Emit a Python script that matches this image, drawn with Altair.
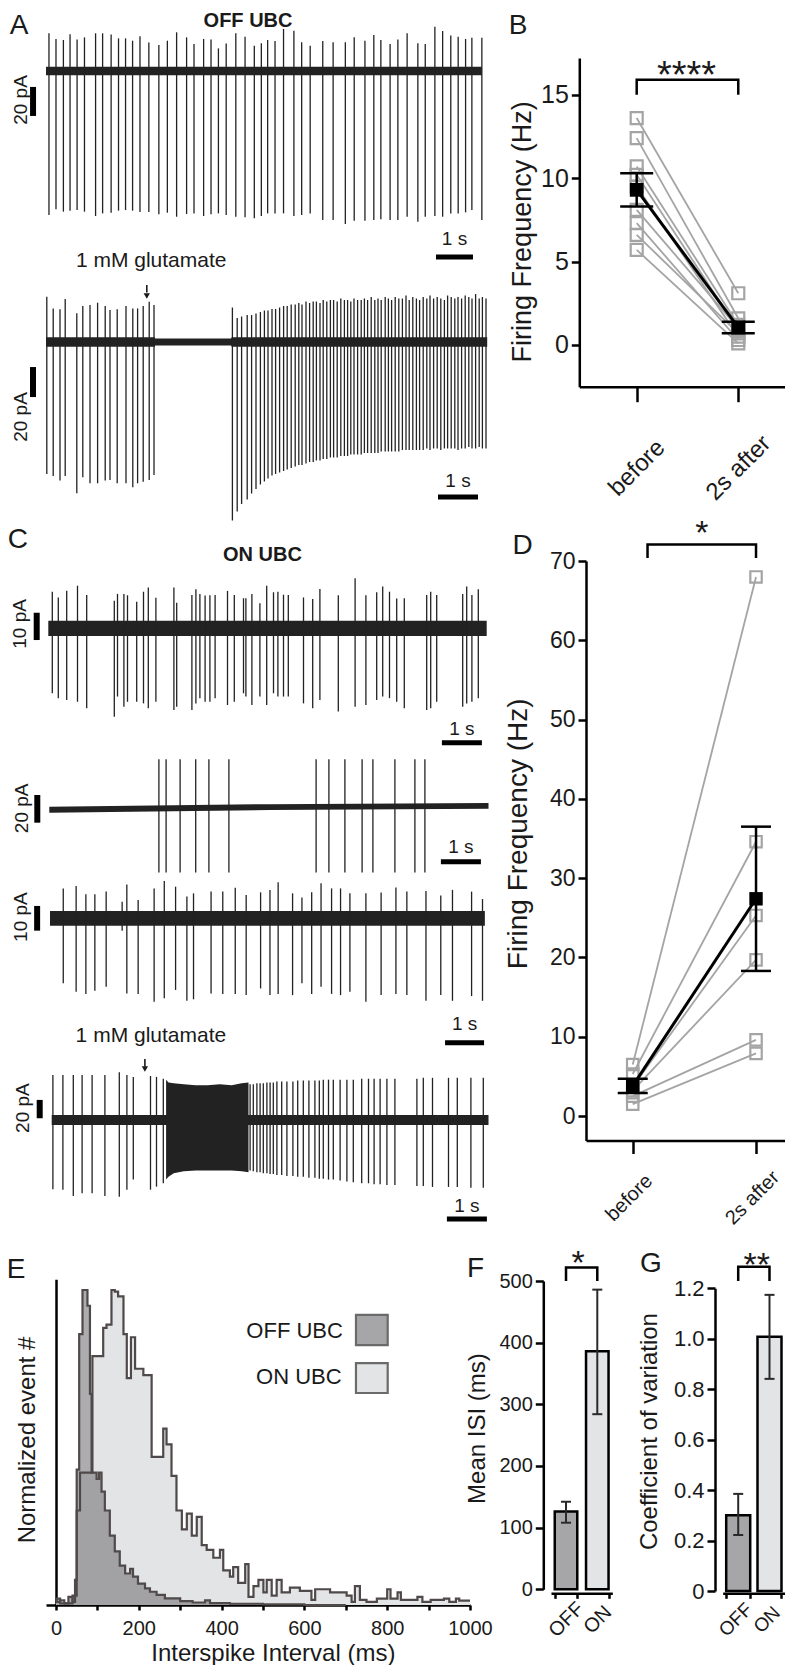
import altair as alt
import pandas as pd

# ======================= DATA =======================
# ---- Panel A, upper trace (OFF UBC, spontaneous). spike time (s), peak (pA), trough (pA)
a1_t = [0.08, 0.27, 0.47, 0.65, 0.84, 1.04, 1.34, 1.53, 1.76, 1.96, 2.15, 2.34, 2.54, 2.78, 3.05, 3.28, 3.53, 3.80,
        4.00, 4.26, 4.46, 4.66, 4.87, 5.13, 5.38, 5.63, 5.82, 5.99, 6.19, 6.42, 6.70, 6.91, 7.14, 7.48, 7.76, 8.09,
        8.33, 8.62, 8.86, 9.05, 9.30, 9.51, 9.76, 10.05, 10.25, 10.51, 10.72, 10.94, 11.14, 11.34, 11.51, 11.78]
a1_up = [26.0, 22.1, 21.4, 25.3, 21.8, 23.2, 26.0, 26.0, 25.1, 22.5, 22.5, 20.9, 23.9, 19.6, 17.9, 20.9, 26.7, 23.2,
         18.6, 22.1, 21.8, 15.6, 18.9, 26.0, 23.7, 17.5, 19.1, 21.4, 20.7, 29.0, 27.8, 19.8, 17.5, 20.7, 19.8, 19.8,
         23.2, 20.9, 24.8, 21.4, 18.6, 21.8, 26.0, 19.1, 18.6, 30.6, 27.6, 24.4, 23.7, 22.1, 23.0, 23.0]
a1_dn = [-99.3, -95.4, -97.0, -96.3, -95.9, -97.0, -100.0, -98.2, -97.7, -96.3, -95.9, -96.3, -97.2, -97.2, -98.8,
         -97.7, -100.5, -98.6, -98.2, -100.0, -98.8, -98.2, -99.3, -100.5, -100.9, -101.6, -100.0, -98.2, -98.2,
         -98.2, -100.0, -99.3, -98.2, -102.7, -102.7, -105.5, -103.2, -103.2, -102.7, -102.3, -102.7, -102.7,
         -100.5, -103.9, -100.5, -100.0, -100.5, -98.2, -98.2, -97.5, -95.9, -102.7]
a1_noise = [[0.0, 11.78], [-3.0, -3.0], [3.0, 3.0]]          # time s, low pA, high pA

# ---- Panel A, lower trace (OFF UBC, 1 mM glutamate puff)
a2_t_before = [0.02, 0.18, 0.35, 0.48, 0.77, 0.92, 1.10, 1.29, 1.48, 1.60, 1.78, 2.00, 2.17, 2.29, 2.43, 2.58, 2.70]
a2_up_before = [30.2, 22.4, 21.8, 28.7, 19.1, 24.0, 24.7, 26.2, 24.0, 21.3, 21.8, 24.0, 22.4, 22.4, 24.0, 26.9, 24.7]
a2_dn_before = [-88.0, -89.3, -92.4, -89.3, -100.9, -90.2, -94.2, -94.2, -92.4, -92.0, -94.2, -94.2, -96.9, -94.2,
                -93.1, -92.0, -88.7]
a2_t_after = [4.66, 4.78, 4.89, 5.03, 5.14, 5.25, 5.36, 5.46, 5.55, 5.65, 5.74, 5.84, 5.94, 6.03, 6.13, 6.23, 6.32,
              6.40, 6.50, 6.59, 6.68, 6.76, 6.85, 6.93, 7.02, 7.11, 7.19, 7.28, 7.37, 7.46, 7.54, 7.62, 7.70, 7.79,
              7.88, 7.96, 8.04, 8.13, 8.22, 8.30, 8.38, 8.48, 8.56, 8.64, 8.73, 8.82, 8.91, 9.00, 9.08, 9.17, 9.26,
              9.34, 9.43, 9.52, 9.60, 9.69, 9.78, 9.87, 9.96, 10.04, 10.13, 10.22, 10.30, 10.39, 10.48, 10.57, 10.65,
              10.74, 10.83, 10.91, 11.00]
a2_up_after = [23, 16, 17, 18, 18, 19, 20, 21, 21, 22, 22, 23, 24, 24, 25, 25, 26, 25, 27, 26, 27, 27, 26, 28, 27,
               28, 28, 27, 29, 28, 28, 27, 29, 28, 28, 29, 28, 30, 28, 29, 28, 30, 29, 28, 30, 29, 29, 31, 28, 30,
               29, 28, 30, 29, 31, 29, 30, 29, 28, 31, 30, 29, 30, 29, 31, 30, 29, 32, 29, 30, 29]
a2_dn_after = [-119, -113, -108, -105, -101, -98, -95, -93, -91, -89, -88, -87, -86, -85, -84, -83, -82, -82, -81,
               -80, -80, -79, -79, -78, -78, -77, -77, -77, -76, -76, -76, -75, -75, -75, -75, -74, -74, -74, -74,
               -74, -73, -73, -73, -73, -73, -73, -72, -72, -72, -72, -72, -72, -72, -71, -72, -71, -71, -72, -71,
               -71, -71, -71, -72, -71, -71, -70, -71, -71, -70, -71, -71]
a2_noise = [[0.0, 2.72, 2.73, 4.63, 4.64, 11.03], [-3.2, -3.2, -2.3, -2.3, -3.2, -3.2], [3.2, 3.2, 2.3, 2.3, 3.2, 3.2]]

# ---- Panel C, trace 1 (ON UBC, spontaneous)
c1_t = [0.10, 0.25, 0.46, 0.73, 0.96, 1.65, 1.73, 1.89, 1.98, 2.21, 2.38, 2.50, 2.69, 3.14, 3.21, 3.59, 3.69, 3.79,
        3.92, 4.04, 4.17, 4.48, 4.65, 4.88, 4.94, 5.09, 5.29, 5.46, 5.63, 5.74, 5.88, 6.00, 6.38, 6.61, 6.79, 7.25,
        7.67, 7.94, 8.21, 8.36, 8.53, 8.71, 8.90, 9.46, 9.56, 9.71, 10.36, 10.46, 10.59, 10.75]
c1_up = [13.4, 11.3, 13.8, 15.6, 12.2, 10.1, 12.6, 12.6, 12.1, 9.7, 13.4, 14.9, 11.2, 14.9, 9.4, 12.2, 14.3, 12.6,
         12.0, 12.1, 12.2, 13.7, 12.2, 11.0, 11.0, 12.6, 9.2, 15.6, 13.2, 13.4, 12.3, 12.2, 11.3, 10.7, 14.4, 12.1,
         18.3, 12.1, 13.2, 15.3, 13.4, 10.9, 11.0, 12.2, 13.4, 12.2, 12.6, 15.3, 12.2, 14.3]
c1_dn = [-23.8, -25.6, -26.3, -26.9, -29.3, -32.4, -25.0, -28.7, -26.9, -26.9, -27.5, -29.3, -26.9, -29.9, -28.7,
         -29.9, -27.5, -25.6, -26.9, -26.9, -25.6, -28.1, -26.9, -23.8, -25.0, -28.1, -25.0, -28.1, -23.8, -25.0,
         -25.0, -25.0, -27.5, -29.3, -26.3, -30.5, -28.7, -28.1, -26.3, -25.0, -25.6, -26.9, -29.3, -29.9, -29.3,
         -26.9, -28.7, -27.5, -26.9, -25.6]
c1_noise = [[0.0, 10.96], [-2.8, -2.8], [2.8, 2.8]]

# ---- Panel C, trace 2 (ON UBC, bursts; display clipped)
c2_t = [2.74, 2.92, 3.27, 3.66, 3.99, 4.49, 6.67, 6.99, 7.39, 7.82, 8.09, 8.64, 9.14, 9.39]
c2_up = [35.4, 35.4, 35.4, 35.4, 35.4, 35.4, 35.4, 35.4, 35.4, 35.4, 35.4, 35.4, 35.4, 35.4]
c2_dn = [-46.5, -46.5, -46.5, -46.5, -46.5, -46.5, -46.5, -46.5, -46.5, -46.5, -46.5, -46.5, -46.5, -46.5]
c2_noise = [[0.0, 5.5, 10.98], [-3.3, -1.2, -0.4], [1.1, 3.0, 3.8]]

# ---- Panel C, trace 3 (ON UBC, spontaneous)
c3_t = [0.34, 0.67, 0.92, 1.15, 1.44, 1.85, 1.97, 2.26, 2.67, 2.93, 3.22, 3.51, 3.68, 4.13, 4.43, 4.75, 5.03, 5.40,
        5.64, 5.85, 6.22, 6.46, 6.71, 6.95, 7.22, 7.45, 7.69, 8.10, 8.49, 8.87, 9.15, 9.64, 10.02, 10.32, 10.81, 11.09]
c3_up = [12.1, 13.1, 9.7, 9.7, 10.8, 6.7, 13.7, 7.4, 12.1, 15.1, 12.8, 8.8, 10.1, 10.8, 10.8, 12.4, 9.4, 10.5, 11.5,
         14.6, 10.1, 8.4, 10.5, 14.2, 12.1, 12.1, 10.1, 10.1, 10.4, 12.5, 10.8, 11.1, 9.2, 11.5, 10.8, 7.8]
c3_dn = [-26.3, -29.7, -30.6, -29.3, -27.7, -5.0, -30.4, -30.6, -33.8, -32.4, -29.0, -33.4, -32.8, -30.4, -30.6,
         -30.6, -31.1, -28.4, -31.1, -30.6, -31.1, -26.3, -30.6, -27.7, -30.6, -31.1, -29.7, -33.8, -31.1, -30.6,
         -31.1, -33.4, -31.1, -33.4, -31.5, -33.4]
c3_noise = [[0.0, 11.15], [-3.0, -3.0], [3.0, 3.0]]

# ---- Panel C, trace 4 (ON UBC, 1 mM glutamate puff)
c4_t = [0.03, 0.28, 0.54, 0.76, 1.01, 1.33, 1.69, 1.88, 2.04, 2.47, 2.62, 2.79,
        4.96, 5.04, 5.13, 5.21, 5.29, 5.38, 5.46, 5.54, 5.63, 5.75, 5.88, 6.03, 6.15, 6.29, 6.43, 6.58, 6.69, 6.79,
        6.92, 7.04, 7.21, 7.38, 7.54, 7.75, 7.92, 8.06, 8.21, 8.38, 8.58, 9.13, 9.29, 9.52, 9.92, 10.14, 10.48, 10.79]
c4_up = [49, 49, 49, 49, 49, 49, 52, 49, 47, 48, 47, 45,
         39, 39, 40, 40, 40, 41, 41, 41, 42, 42, 42, 42, 43, 43, 43, 43, 43, 44, 44, 44, 44, 44, 44, 45, 45, 45, 45,
         45, 45, 45, 46, 46, 46, 46, 46, 46]
c4_dn = [-75.6, -76.0, -83.0, -80.0, -80.0, -83.0, -83.6, -76.0, -65.0, -76.0, -72.7, -69.0,
         -55, -56, -57, -57, -58, -58, -59, -59, -60, -60, -61, -61, -62, -62, -63, -63, -64, -64, -65, -65, -66,
         -67, -68, -69, -69, -70, -70, -71, -71, -72, -72, -73, -73, -73, -74, -74]
c4_noise = [[0.0, 10.92], [-5.5, -5.5], [5.5, 5.5]]
c4_burst_t = [2.86, 2.92, 3.05, 3.3, 3.6, 3.9, 4.2, 4.5, 4.75, 4.92]
c4_burst_top = [44, 41, 40, 39, 38, 38, 39, 38, 40, 41]
c4_burst_bot = [-65, -62, -58, -56, -55, -55, -55, -55, -56, -57]

# ---- Panel B: OFF UBC firing frequency (Hz), paired cells
b_before = [13.6, 12.4, 10.7, 10.2, 9.5, 8.1, 7.3, 6.6, 5.7]
b_after = [3.1, 1.6, 1.2, 0.9, 0.5, 1.0, 0.3, 0.7, 0.1]
b_mean = [9.3, 1.05]
b_lo = [8.3, 0.7]
b_hi = [10.3, 1.4]

# ---- Panel D: ON UBC firing frequency (Hz), paired cells
d_before = [6.5, 5.3, 3.7, 3.2, 2.5, 1.5]
d_after = [68.0, 34.6, 25.3, 19.7, 9.6, 7.9]
d_mean = [3.8, 27.4]
d_lo = [2.9, 18.3]
d_hi = [4.7, 36.5]

# ---- Panel E: normalized ISI histograms (bin start in ms, normalized count)
on_ms = [0, 10, 20, 40, 50, 58, 88, 114, 122, 134, 142, 150, 163, 171, 181, 191, 211, 231, 259, 267, 279, 291, 304,
         316, 328, 340, 352, 364, 380, 396, 404, 420, 428, 440, 457, 465, 477, 489, 501, 509, 521, 533, 545, 565, 589,
         617, 626, 662, 702, 714, 722, 734, 750, 775, 800, 808, 825, 833, 873, 885, 905, 937, 950, 966, 974, 1000]
on_val = [0.01, 0.015, 0.005, 0.03, 0.30, 0.42, 0.79, 0.88, 0.89, 1.0, 0.995, 0.98, 0.86, 0.72, 0.85, 0.75, 0.73,
          0.47, 0.56, 0.51, 0.41, 0.30, 0.24, 0.29, 0.22, 0.28, 0.19, 0.175, 0.15, 0.175, 0.11, 0.09, 0.12, 0.07,
          0.13, 0.026, 0.06, 0.08, 0.04, 0.08, 0.03, 0.08, 0.04, 0.055, 0.045, 0.016, 0.05, 0.04, 0.03, 0.01, 0.06,
          0.016, 0.01, 0.02, 0.05, 0.02, 0.04, 0.016, 0.026, 0.01, 0.016, 0.02, 0.01, 0.02, 0.014, 0.014]
off_ms = [0, 10, 30, 40, 46, 50, 56, 64, 76, 82, 86, 98, 104, 110, 118, 130, 142, 154, 167, 179, 186, 198, 215, 227,
          243, 263, 300, 330, 360, 372, 420, 500, 600, 700]
off_val = [0.02, 0.005, 0.026, 0.01, 0.08, 0.43, 0.86, 1.0, 0.95, 0.67, 0.42, 0.40, 0.42, 0.36, 0.30, 0.22, 0.17,
           0.125, 0.10, 0.115, 0.09, 0.068, 0.053, 0.042, 0.032, 0.021, 0.012, 0.008, 0.015, 0.006, 0.004, 0.002,
           0.0, 0.0]
legend_names = ["OFF UBC", "ON UBC"]

# ---- Panels F, G: mean ISI (ms) and coefficient of variation
cond = ["OFF", "ON"]
f_mean = [126, 386]
f_lo = [108, 284]
f_hi = [142, 486]
g_mean = [0.30, 1.008]
g_lo = [0.222, 0.841]
g_hi = [0.385, 1.174]

# ======================= STYLE / LAYOUT =======================
W, H = 777, 1657
FONT = "Liberation Sans"
INK = "#1a1a1a"
TRACE = "#222222"
GREY = "#a4a4a4"
OFF_FILL = "#a6a6a9"
ON_FILL = "#e3e4e6"
OUTLINE = "#4f4949"


def lin(domain, p0, p1):
    # page-pixel range -> chart coordinates (page has an 8 px margin)
    return alt.Scale(domain=domain, range=[p0 - 8, p1 - 8], nice=False, zero=False)


def left_off(px):
    return -(px - 8)


def bottom_off(py):
    return (py - 8) - H


def txt(x, y, s, X, Y, **mk):
    d = pd.DataFrame({"x": [x], "y": [y], "s": [s]})
    props = dict(font=FONT, color=INK, baseline="alphabetic")
    props.update(mk)
    return alt.Chart(d).mark_text(**props).encode(x=X("x"), y=Y("y"), text="s:N")


TITLE_ROT = dict(angle=270, align="center", baseline="middle")


# ---------------- electrophysiology traces ----------------
def trace_panel(t, up, dn, noise, x0, pps, y0, k, tbar, abar, amp, notes, arrow=None, burst=None):
    xs = alt.Scale(domain=[0, 10], range=[x0 - 8, x0 + 10 * pps - 8], nice=False, zero=False)
    ys = alt.Scale(domain=[-100, 100], range=[y0 + 100 * k - 8, y0 - 100 * k - 8], nice=False, zero=False)

    def X(f):
        return alt.X(f, type="quantitative", scale=xs, axis=None)

    def Y(f):
        return alt.Y(f, type="quantitative", scale=ys, axis=None)

    nz = pd.DataFrame({"t": noise[0], "lo": noise[1], "hi": noise[2]})
    layers = [alt.Chart(nz).mark_area(color=TRACE, opacity=1).encode(x=X("t"), y=Y("lo"), y2="hi")]
    if burst is not None:
        bd = pd.DataFrame({"t": burst[0], "top": burst[1], "bot": burst[2]})
        layers.append(alt.Chart(bd).mark_area(color=TRACE, opacity=1).encode(x=X("t"), y=Y("bot"), y2="top"))
    sp = pd.DataFrame({"t": t, "up": up, "dn": dn})
    layers.append(alt.Chart(sp).mark_rule(color=TRACE, strokeWidth=1.3).encode(x=X("t"), y=Y("dn"), y2="up"))
    # 1 s time bar and amplitude bar
    tb = pd.DataFrame({"a": [tbar[0]], "b": [tbar[0] + 1], "y": [tbar[1]]})
    layers.append(alt.Chart(tb).mark_rule(color="black", strokeWidth=5).encode(x=X("a"), x2="b", y=Y("y")))
    ab = pd.DataFrame({"x": [abar[0]], "a": [abar[1]], "b": [abar[1] + amp]})
    layers.append(alt.Chart(ab).mark_rule(color="black", strokeWidth=6).encode(x=X("x"), y=Y("a"), y2="b"))
    if arrow is not None:
        sh = pd.DataFrame({"x": [arrow[0]], "a": [arrow[1]], "b": [arrow[2]]})
        layers.append(alt.Chart(sh).mark_rule(color=INK, strokeWidth=1.6).encode(x=X("x"), y=Y("a"), y2="b"))
        hd = pd.DataFrame({"x": [arrow[0]], "y": [arrow[3]]})
        layers.append(alt.Chart(hd).mark_point(shape="triangle-down", filled=True, color=INK, size=40,
                                               opacity=1).encode(x=X("x"), y=Y("y")))
    for (s, x, y, mk) in notes:
        layers.append(txt(x, y, s, X, Y, **mk))
    return alt.layer(*layers)


ROT = dict(angle=270, align="center", baseline="middle", fontSize=19)
SEC = dict(fontSize=19)

pA1 = trace_panel(a1_t, a1_up, a1_dn, a1_noise, 46, 37, 71, 1.45, (10.54, -128.3), (-0.35, -31), 20,
                  [("A", -0.73, 25.5, dict(fontSize=28)),
                   ("OFF UBC", 5.46, 30.3, dict(fontSize=20, fontWeight="bold")),
                   ("20 pA", -0.68, -20, ROT),
                   ("1 s", 11.04, -120, SEC)])
pA2 = trace_panel(a2_t_before + a2_t_after, a2_up_before + a2_up_after, a2_dn_before + a2_dn_after, a2_noise,
                  46, 40, 342, 1.5, (9.8, -103.3), (-0.325, -36.7), 20,
                  [("1 mM glutamate", 2.63, 50, dict(fontSize=21)),
                   ("20 pA", -0.63, -50, ROT),
                   ("1 s", 10.3, -96.7, SEC)],
                  arrow=(2.52, 38, 33, 30.7))
pC1 = trace_panel(c1_t, c1_up, c1_dn, c1_noise, 48.3, 40, 628.3, 2.73, (9.84, -41.9), (-0.29, -4.3), 10,
                  [("C", -0.76, 29.4, dict(fontSize=28)),
                   ("ON UBC", 5.355, 24.8, dict(fontSize=20, fontWeight="bold")),
                   ("10 pA", -0.71, 1.6, ROT),
                   ("1 s", 10.34, -39, SEC)])
pC2 = trace_panel(c2_t, c2_up, c2_dn, c2_noise, 49.3, 40, 808.3, 1.383, (9.79, -38.6), (-0.3, -10.4), 20,
                  [("20 pA", -0.68, 0, ROT),
                   ("1 s", 10.29, -32.3, SEC)])
pC3 = trace_panel(c3_t, c3_up, c3_dn, c3_noise, 50, 39, 918.3, 2.47, (10.13, -50.4), (-0.33, -5), 10,
                  [("10 pA", -0.74, 0.5, ROT),
                   ("1 s", 10.63, -45.2, SEC)])
pC4 = trace_panel(c4_t, c4_up, c4_dn, c4_noise, 51.7, 40, 1120, 0.917, (9.88, -108), (-0.3, 1.9), 20,
                  [("1 mM glutamate", 2.48, 85, dict(fontSize=21)),
                   ("20 pA", -0.72, 13, ROT),
                   ("1 s", 10.38, -100, SEC)],
                  arrow=(2.33, 66.5, 58, 55.6),
                  burst=(c4_burst_t, c4_burst_top, c4_burst_bot))


# ---------------- paired firing-frequency panels (B, D) ----------------
def paired_panel(before, after, mean, lo, hi, xs, ys, xa, ya, sq, msq, cap, br_x, br_y, star, star_xy,
                 star_size, letter, letter_xy, title, title_xy, title_size):
    def X(f):
        return alt.X(f, type="quantitative", scale=xs, axis=xa)

    def Y(f):
        return alt.Y(f, type="quantitative", scale=ys, axis=ya)

    n = len(before)
    cells = pd.DataFrame({"cell": list(range(n)) * 2, "x": [0] * n + [1] * n, "v": before + after})
    summ = pd.DataFrame({"x": [0, 1], "m": mean, "lo": lo, "hi": hi})
    caps = pd.DataFrame({"x": [0, 1, 0, 1], "v": lo + hi})
    br = pd.DataFrame({"i": [0, 1, 2, 3], "x": br_x, "y": br_y})
    layers = [
        alt.Chart(cells).mark_line(color=GREY, strokeWidth=1.8).encode(x=X("x"), y=Y("v"), detail="cell:N"),
        alt.Chart(cells).mark_point(shape="square", filled=False, color=GREY, strokeWidth=2.2, size=sq,
                                    opacity=1).encode(x=X("x"), y=Y("v")),
        alt.Chart(summ).mark_line(color="black", strokeWidth=3).encode(x=X("x"), y=Y("m")),
        alt.Chart(summ).mark_rule(color="black", strokeWidth=2.5).encode(x=X("x"), y=Y("lo"), y2="hi"),
        alt.Chart(caps).mark_tick(orient="horizontal", size=cap, thickness=2.5, color="black",
                                  opacity=1).encode(x=X("x"), y=Y("v")),
        alt.Chart(summ).mark_point(shape="square", filled=True, color="black", size=msq,
                                   opacity=1).encode(x=X("x"), y=Y("m")),
        alt.Chart(br).mark_line(color="black", strokeWidth=2.5).encode(x=X("x"), y=Y("y"), order="i:Q"),
        txt(star_xy[0], star_xy[1], star, X, Y, fontSize=star_size),
        txt(letter_xy[0], letter_xy[1], letter, X, Y, fontSize=28),
        txt(title_xy[0], title_xy[1], title, X, Y, fontSize=title_size, **TITLE_ROT),
    ]
    return alt.layer(*layers)


PAIR_LABELS = "datum.value == 0 ? 'before' : '2s after'"

bxs = lin([-0.565, 1.46], 579.3, 785)
bys = lin([-2.5, 17.2], 386.7, 58)
bxa = alt.Axis(orient="bottom", offset=bottom_off(386.7), values=[0, 1], labelExpr=PAIR_LABELS, title=None,
               tickSize=15, labelAngle=-45, labelAlign="center", labelBaseline="middle", labelPadding=66,
               labelFontSize=24, labelFlush=False, labelOverlap=False)
bya = alt.Axis(orient="left", offset=left_off(579.3), values=[0, 5, 10, 15], title=None,
               tickSize=8, labelFontSize=25, labelPadding=3)
pB = paired_panel(b_before, b_after, b_mean, b_lo, b_hi, bxs, bys, bxa, bya, 144, 190, 33,
                  [0, 0, 1, 1], [15.0, 15.9, 15.9, 15.0], "****", (0.49, 15.43), 38, "B", (-1.168, 18.66),
                  "Firing Frequency (Hz)", (-1.119, 6.78), 27)

dxs = lin([-0.379, 1.235], 586, 785)
dys = lin([-3.09, 70], 1140.5, 561.1)
dxa = alt.Axis(orient="bottom", offset=bottom_off(1140.5), values=[0, 1], labelExpr=PAIR_LABELS, title=None,
               tickSize=13, labelAngle=-45, labelAlign="center", labelBaseline="middle", labelPadding=44,
               labelOffset=-4, labelFontSize=20, labelFlush=False, labelOverlap=False)
dya = alt.Axis(orient="left", offset=left_off(586), values=[0, 10, 20, 30, 40, 50, 60, 70],
               title=None, tickSize=8, labelFontSize=23, labelPadding=3)
pD = paired_panel(d_before, d_after, d_mean, d_lo, d_hi, dxs, dys, dxa, dya, 130, 180, 30,
                  [0.12, 0.12, 1, 1], [70.4, 72.1, 72.1, 70.4], "*", (0.56, 72.2), 34, "D", (-0.894, 70.9),
                  "Firing Frequency (Hz)", (-0.922, 35.6), 28)

# ---------------- E: ISI histograms ----------------
exs = lin([0, 1000], 56, 470)
eys = lin([0, 1.034], 1605, 1279.3)
exa = alt.Axis(orient="bottom", offset=bottom_off(1605), values=[0, 100, 200, 300, 400, 500, 600, 700, 800, 900, 1000],
               format="d", labelExpr="datum.value % 200 == 0 ? datum.label : ''", tickSize=5, labelPadding=8,
               labelFontSize=20, labelFlush=False, labelOverlap=False, title=None)
eya = alt.Axis(orient="left", offset=left_off(56), values=[0], labels=False, tickSize=10, title=None)


def EX(f):
    return alt.X(f, type="quantitative", scale=exs, axis=exa)


def EY(f):
    return alt.Y(f, type="quantitative", scale=eys, axis=eya)


on_df = pd.DataFrame({"x": on_ms, "y": on_val})
off_df = pd.DataFrame({"x": off_ms, "y": off_val})
leg_box = pd.DataFrame({"x": [724.6, 724.6], "x2": [801.2, 801.2], "y": [0.825, 0.673], "y2": [0.921, 0.768],
                        "name": legend_names})
leg_txt = pd.DataFrame({"x": [693, 690], "y": [0.848, 0.702], "s": legend_names})
pE = alt.layer(
    alt.Chart(on_df).mark_area(interpolate="step-after", color=ON_FILL, opacity=1).encode(
        x=EX("x"), y=EY("y"), y2=alt.datum(0)),
    alt.Chart(off_df).mark_area(interpolate="step-after", color="#76767a", opacity=0.6).encode(
        x=EX("x"), y=EY("y"), y2=alt.datum(0)),
    alt.Chart(on_df).mark_line(interpolate="step-after", color=OUTLINE, strokeWidth=2.2).encode(x=EX("x"), y=EY("y")),
    alt.Chart(off_df).mark_line(interpolate="step-after", color=OUTLINE, strokeWidth=2.2).encode(x=EX("x"), y=EY("y")),
    alt.Chart(leg_box.iloc[[0]]).mark_rect(color=OFF_FILL, stroke="#6a6a6a", strokeWidth=2.2).encode(
        x=EX("x"), x2="x2", y=EY("y"), y2="y2"),
    alt.Chart(leg_box.iloc[[1]]).mark_rect(color=ON_FILL, stroke="#6a6a6a", strokeWidth=2.2).encode(
        x=EX("x"), x2="x2", y=EY("y"), y2="y2"),
    alt.Chart(leg_txt).mark_text(font=FONT, color=INK, fontSize=22, align="right", baseline="alphabetic").encode(
        x=EX("x"), y=EY("y"), text="s:N"),
    txt(-96.6, 1.038, "E", EX, EY, fontSize=28),
    txt(-67.6, 0.524, "Normalized event #", EX, EY, fontSize=24, **TITLE_ROT),
    txt(525, -0.178, "Interspike Interval (ms)", EX, EY, fontSize=24),
)


# ---------------- F, G: bar panels ----------------
def bar_panel(mean, lo, hi, xs, ys, xa, ya, br_y, star, star_y, star_dx, letter, letter_y, letter_dx,
              title, title_y, title_shift):
    def X(f):
        return alt.X(f, type="nominal", scale=xs, axis=xa)

    def Y(f):
        return alt.Y(f, type="quantitative", scale=ys, axis=ya)

    df = pd.DataFrame({"c": cond, "m": mean, "lo": lo, "hi": hi})
    caps = pd.DataFrame({"c": cond + cond, "v": lo + hi})
    br = pd.DataFrame({"i": [0, 1, 2, 3], "c": [cond[0], cond[0], cond[1], cond[1]], "y": br_y})

    def note(s, y, **mk):
        d = pd.DataFrame({"c": [cond[0]], "y": [y], "s": [s]})
        props = dict(font=FONT, color=INK, baseline="alphabetic")
        props.update(mk)
        return alt.Chart(d).mark_text(**props).encode(x=X("c"), y=Y("y"), text="s:N")

    return alt.layer(
        alt.Chart(df).mark_bar(stroke="black", strokeWidth=2.5, opacity=1).encode(
            x=X("c"), y=Y("m"), y2=alt.datum(0),
            color=alt.Color("c:N", scale=alt.Scale(domain=cond, range=[OFF_FILL, ON_FILL]), legend=None)),
        alt.Chart(df).mark_rule(color="#2a2a2a", strokeWidth=2).encode(x=X("c"), y=Y("lo"), y2="hi"),
        alt.Chart(caps).mark_tick(orient="horizontal", size=10, thickness=2, color="#2a2a2a", opacity=1).encode(
            x=X("c"), y=Y("v")),
        alt.Chart(br).mark_line(color="black", strokeWidth=2.5).encode(x=X("c"), y=Y("y"), order="i:Q"),
        note(star, star_y, dx=star_dx, fontSize=34),
        note(letter, letter_y, dx=letter_dx, fontSize=28),
        # rotated text: its own dy axis points to the right on screen
        note(title, title_y, dy=title_shift, fontSize=24, **TITLE_ROT),
    )


fxs = alt.Scale(type="band", domain=cond, range=[551 - 8, 612.3 - 8], paddingInner=0.28, paddingOuter=0.12)
fys = lin([0, 500], 1589.3, 1281)
fxa = alt.Axis(orient="bottom", offset=bottom_off(1593.3), title=None, tickBand="extent", tickSize=5,
               labelAngle=-45, labelAlign="center", labelBaseline="middle", labelPadding=21, labelFontSize=20)
fya = alt.Axis(orient="left", offset=left_off(543.3), values=[0, 100, 200, 300, 400, 500], title=None,
               tickSize=8, labelFontSize=20, labelPadding=3)
pF = bar_panel(f_mean, f_lo, f_hi, fxs, fys, fxa, fya, [500, 522, 522, 500], "*", 510.6, 12, "F", 506.4, -90.5,
               "Mean ISI (ms)", 260.7, -88.5)

gxs = alt.Scale(type="band", domain=cond, range=[722.7 - 8, 785 - 8], paddingInner=0.233, paddingOuter=0.112)
gys = lin([0, 1.2], 1591, 1288.3)
gxa = alt.Axis(orient="bottom", offset=bottom_off(1593.3), title=None, tickBand="extent", tickSize=5,
               labelAngle=-45, labelAlign="center", labelBaseline="middle", labelPadding=21, labelOffset=-3,
               labelFontSize=19)
gya = alt.Axis(orient="left", offset=left_off(715), values=[0, 0.2, 0.4, 0.6, 0.8, 1.0, 1.2],
               labelExpr="datum.value == 0 ? '0' : format(datum.value, '.1f')", title=None,
               tickSize=8, labelFontSize=22, labelPadding=3)
pG = bar_panel(g_mean, g_lo, g_hi, gxs, gys, gxa, gya, [1.229, 1.285, 1.285, 1.229], "**", 1.249, 18.5,
               "G", 1.265, -87.2, "Coefficient of variation", 0.632, -88.2)

chart = (
    alt.layer(pA1, pA2, pC1, pC2, pC3, pC4, pB, pD, pE, pF, pG)
    .resolve_scale(x="independent", y="independent")
    .properties(width=W, height=H, padding=0, autosize=alt.AutoSizeParams(type="none"))
    .configure(font=FONT)
    .configure_view(stroke=None)
    .configure_axis(grid=False, domainColor="black", tickColor="black", domainWidth=2.5, tickWidth=2.5,
                    labelColor=INK, titleColor=INK, labelFont=FONT, titleFont=FONT, titleFontWeight="normal")
)

chart.save("out.html", embed_options={"renderer": "svg", "actions": False})
